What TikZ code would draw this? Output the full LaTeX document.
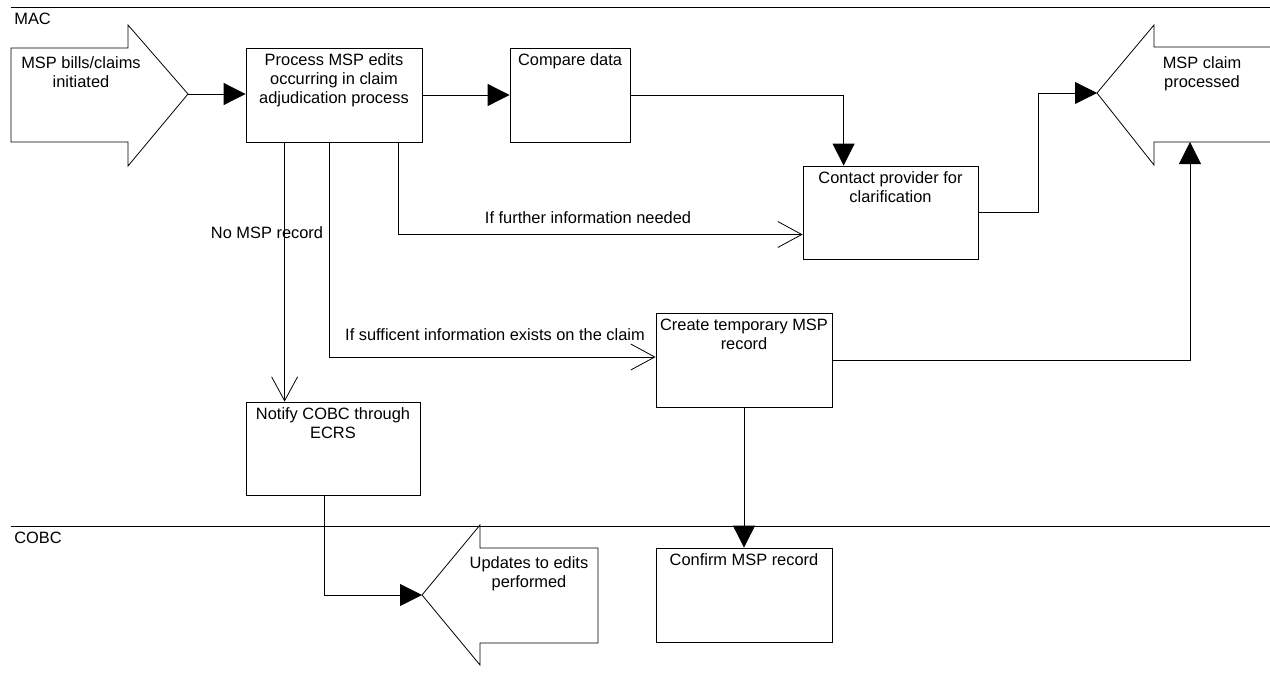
\documentclass[tikz,border=0pt]{standalone}
\usepackage{fontspec}
\setmainfont{Liberation Sans}
\usetikzlibrary{arrows.meta}
\begin{document}
\begin{tikzpicture}[x=1pt,y=-1pt,line width=0.8pt,
  txt/.style={font=\fontsize{16.4}{19}\selectfont,align=center,inner sep=0pt},
  box/.style={draw,rectangle,inner sep=0pt},
  fa/.style={-{Triangle[length=22pt,width=22pt]}},
  oa/.style={-{Straight Barb[length=24pt,width=26pt]}}]
\useasboundingbox (0,0) rectangle (1270,673);
% swimlane lines
\draw (11,7) -- (1270,7);
\draw (11,526) -- (1270,526);
\node[txt,anchor=west] (mac) at (14,19) {MAC};
\node[txt,anchor=west] (cobc) at (14,538) {COBC};
% boxes
\node[box,minimum width=176,minimum height=94] (process) at (334,95) {};
\node[box,minimum width=120,minimum height=94] (compare) at (570,95) {};
\node[box,minimum width=175,minimum height=93] (contact) at (890.5,212.5) {};
\node[box,minimum width=174,minimum height=93] (notify) at (333,448.5) {};
\node[box,minimum width=176,minimum height=94] (create) at (744,360) {};
\node[box,minimum width=176,minimum height=94] (confirm) at (744,595) {};
\node[txt,anchor=north] (processT) at ([yshift=-6pt]process.north) {Process MSP edits\\occurring in claim\\adjudication process};
\node[txt,anchor=north] (compareT) at ([yshift=-6pt]compare.north) {Compare data};
\node[txt,anchor=north] (contactT) at ([yshift=-6pt]contact.north) {Contact provider for\\clarification};
\node[txt,anchor=north] (notifyT) at ([yshift=-6pt]notify.north) {Notify COBC through\\ECRS};
\node[txt,anchor=north] (createT) at ([yshift=-6pt]create.north) {Create temporary MSP\\record};
\node[txt,anchor=north] (confirmT) at ([yshift=-6pt]confirm.north) {Confirm MSP record};
% block arrows
\draw (11,48) -- (128,48) -- (128,25) -- (188,94) -- (128,166) -- (128,142) -- (11,142) -- cycle;
\coordinate (inTip) at (188,94);
\node[txt,anchor=north] (inT) at (81,56) {MSP bills/claims\\initiated};
\draw (1272,47) -- (1154,47) -- (1154,25) -- (1097,93) -- (1154,165) -- (1154,142) -- (1272,142);
\coordinate (outTip) at (1097,93);
\coordinate (outBot) at (1190,142);
\node[txt,anchor=north] (outT) at (1202,56) {MSP claim\\processed};
\draw (598,548) -- (480,548) -- (480,525) -- (422,595) -- (480,665) -- (480,643) -- (598,643) -- cycle;
\coordinate (updTip) at (422,595);
\node[txt,anchor=north] (updT) at (529,556) {Updates to edits\\performed};
% connectors
\draw[fa] (inTip) -- (inTip -| process.west);
\draw[fa] (process.east) -- (compare.west);
\draw[fa] (compare.east) -| ([xshift=41pt]contact.north west);
\draw[fa] (contact.east) -- ++(60,0) |- (outTip);
\draw[fa] (create.east) -| (outBot);
\draw[fa] (create.south) -- (confirm.north);
\coordinate (p1) at ([xshift=39pt]process.south west);
\coordinate (p2) at ([xshift=84pt]process.south west);
\coordinate (p3) at ([xshift=153pt]process.south west);
\draw[oa] (p1) -- (p1 |- notify.north);
\draw[oa] (p2) |- ([yshift=3pt]create.west);
\draw[oa] (p3) |- ([yshift=-22pt]contact.west);
\draw[fa] ([xshift=79pt]notify.south west) |- (updTip);
% connector labels
\node[txt] (lbl1) at (267,233) {No MSP record};
\node[txt] (lbl2) at (588,218) {If further information needed};
\node[txt] (lbl3) at (495,335) {If sufficent information exists on the claim};
\end{tikzpicture}
\end{document}
